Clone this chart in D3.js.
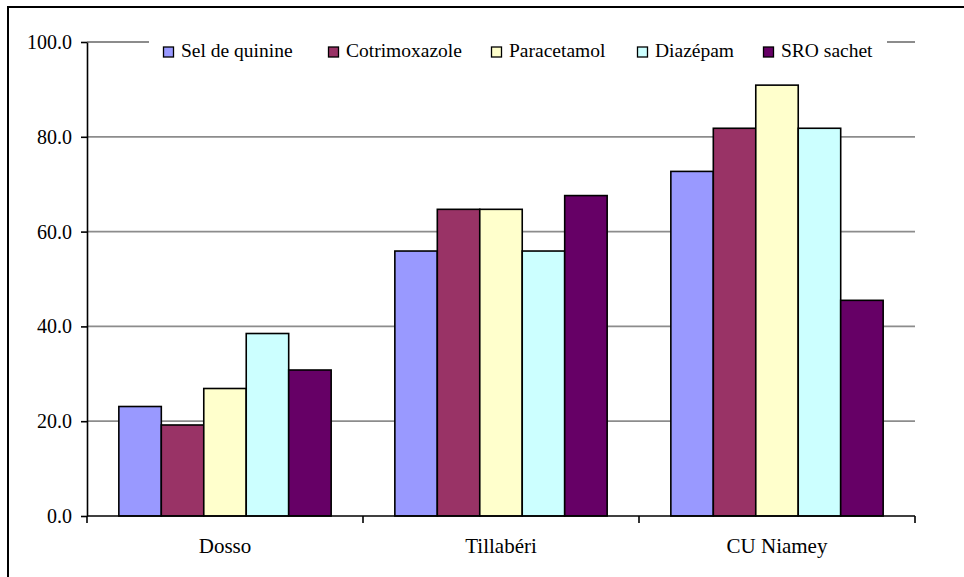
<!DOCTYPE html>
<html>
<head>
<meta charset="utf-8">
<script src="https://cdn.jsdelivr.net/npm/d3@7"></script>
<style>
  html, body { margin: 0; padding: 0; background: #fff; }
  svg { display: block; }
</style>
</head>
<body>
<svg id="chart" width="964" height="577"></svg>
<script>
// Regions along the x axis
const categories = ["Dosso", "Tillabéri", "CU Niamey"];
// Products shown in the legend
const seriesNames = ["Sel de quinine", "Cotrimoxazole", "Paracetamol", "Diazépam", "SRO sachet"];
const seriesColors = ["#9999FF", "#993366", "#FFFFCC", "#CCFFFF", "#660066"];
// Percentage per product, one array per product (Dosso, Tillabéri, CU Niamey)
const selDeQuinine = [23.1, 55.9, 72.7];
const cotrimoxazole = [19.2, 64.7, 81.8];
const paracetamol = [26.9, 64.7, 90.9];
const diazepam = [38.5, 55.9, 81.8];
const sroSachet = [30.8, 67.6, 45.5];
const yTicks = [0, 20, 40, 60, 80, 100];

const seriesValues = [selDeQuinine, cotrimoxazole, paracetamol, diazepam, sroSachet];
const FONT = "Liberation Serif";

const svg = d3.select("#chart");

// Outer frame (runs past the right and bottom edges)
svg.append("rect")
  .attr("x", 8).attr("y", 7)
  .attr("width", 970).attr("height", 600)
  .attr("fill", "none").attr("stroke", "#000").attr("stroke-width", 2);

const plot = { left: 87, right: 915, top: 42, bottom: 516 };

const x0 = d3.scaleBand().domain(categories)
  .range([plot.left, plot.right]).paddingInner(0).paddingOuter(0);
const x1 = d3.scaleBand().domain(d3.range(seriesNames.length))
  .range([0, x0.bandwidth()])
  .paddingInner(0).paddingOuter(0.75); // gap of 1.5 bar widths between groups
const y = d3.scaleLinear().domain([0, 100]).range([plot.bottom, plot.top]);

// Horizontal gridlines
svg.append("g").selectAll("line")
  .data(yTicks.filter(t => t > 0))
  .join("line")
  .attr("x1", plot.left).attr("x2", plot.right)
  .attr("y1", d => y(d)).attr("y2", d => y(d))
  .attr("stroke", "#8c8c8c").attr("stroke-width", 1.8);

// Bars
const groups = svg.append("g").selectAll("g")
  .data(categories)
  .join("g")
  .attr("transform", d => `translate(${x0(d)},0)`);

groups.selectAll("rect")
  .data((c, ci) => seriesValues.map((vals, si) => ({ si, v: vals[ci] })))
  .join("rect")
  .attr("x", d => x1(d.si))
  .attr("width", x1.bandwidth())
  .attr("y", d => y(d.v))
  .attr("height", d => y(0) - y(d.v))
  .attr("fill", d => seriesColors[d.si])
  .attr("stroke", "#000").attr("stroke-width", 1.6);

// Y axis
const yAxis = d3.axisLeft(y).tickValues(yTicks).tickSize(6).tickSizeOuter(0)
  .tickFormat(d3.format(".1f")).tickPadding(9);
const gy = svg.append("g").attr("transform", `translate(${plot.left},0)`).call(yAxis);
gy.select(".domain").attr("stroke", "#000").attr("stroke-width", 1.6);
gy.selectAll(".tick line").attr("stroke", "#000").attr("stroke-width", 1.6);
gy.selectAll(".tick text").attr("fill", "#000")
  .style("font-family", FONT).style("font-size", "20px");

// X axis with ticks at category boundaries
const gx = svg.append("g").attr("transform", `translate(0,${plot.bottom})`);
gx.append("line")
  .attr("x1", plot.left).attr("x2", plot.right)
  .attr("stroke", "#000").attr("stroke-width", 1.6);
const boundaries = categories.map(c => x0(c)).concat([x0(categories[categories.length - 1]) + x0.bandwidth()]);
gx.selectAll("line.tk").data(boundaries).join("line")
  .attr("class", "tk")
  .attr("x1", d => d).attr("x2", d => d)
  .attr("y1", 0).attr("y2", 7)
  .attr("stroke", "#000").attr("stroke-width", 1.6);
gx.selectAll("text").data(categories).join("text")
  .attr("x", d => x0(d) + x0.bandwidth() / 2)
  .attr("y", 37)
  .attr("text-anchor", "middle")
  .attr("fill", "#000")
  .style("font-family", FONT).style("font-size", "21px")
  .text(d => d);

// Legend with white background over the top gridline
const legendX = [163, 328, 491, 637, 763];
svg.append("rect")
  .attr("x", 149).attr("y", 30).attr("width", 738).attr("height", 32)
  .attr("fill", "#fff");
const leg = svg.append("g")
  .selectAll("g")
  .data(seriesNames)
  .join("g")
  .attr("transform", (d, i) => `translate(${legendX[i]},57)`);
leg.append("rect")
  .attr("x", 0.5).attr("y", -10).attr("width", 10).attr("height", 10)
  .attr("fill", (d, i) => seriesColors[i])
  .attr("stroke", "#000").attr("stroke-width", 1.3);
leg.append("text")
  .attr("x", 18).attr("y", 0)
  .attr("fill", "#000")
  .style("font-family", FONT).style("font-size", "19.5px")
  .text(d => d);
</script>
</body>
</html>
